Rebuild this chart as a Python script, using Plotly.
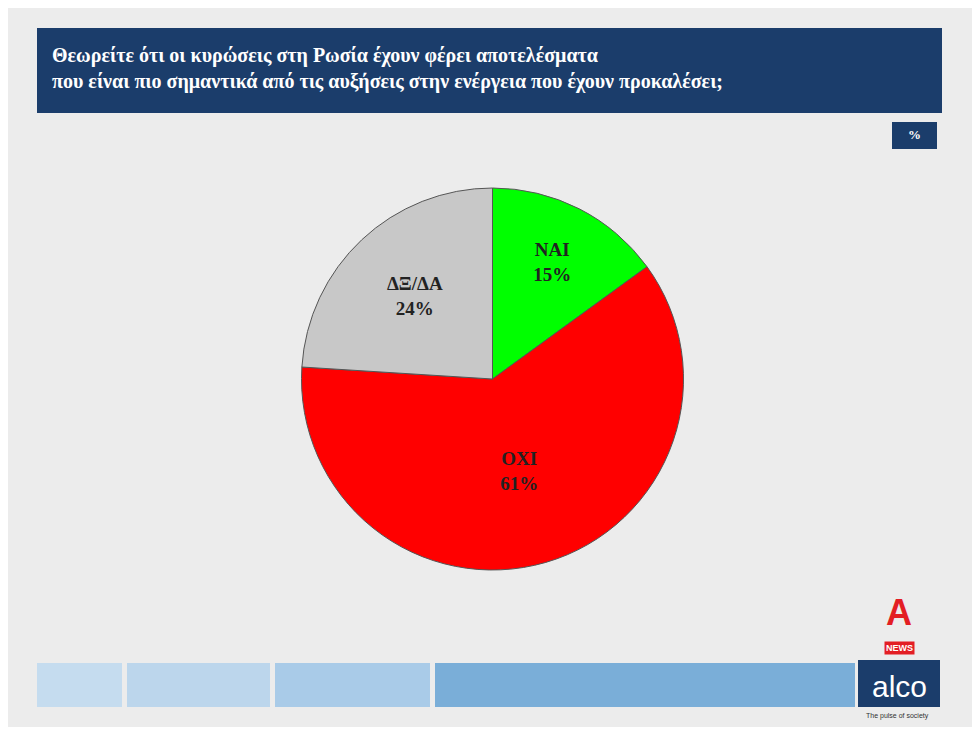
import plotly.graph_objects as go

labels = ["ΝΑΙ", "ΟΧΙ", "ΔΞ/ΔΑ"]
values = [15, 61, 24]
colors = ["#00ff00", "#ff0000", "#c8c8c8"]
title_lines = ["Θεωρείτε ότι οι κυρώσεις στη Ρωσία έχουν φέρει αποτελέσματα",
               "που είναι πιο σημαντικά από τις αυξήσεις στην ενέργεια που έχουν προκαλέσει;"]

W, H = 964, 719
OFF = 8
def px(x): return (x - OFF) / W
def py(y): return 1 - (y - OFF) / H

fig = go.Figure(go.Pie(
    labels=labels, values=values, sort=False, direction="clockwise", rotation=0,
    marker=dict(colors=colors, line=dict(color="#555555", width=1)),
    texttemplate="<b>%{label}<br>%{value}%</b>", textposition="inside", insidetextorientation="horizontal",
    textfont=dict(family="Liberation Serif", size=19, color="#222222"),
    domain=dict(x=[px(300), px(685)], y=[py(570), py(188)]), showlegend=False, hoverinfo="skip"))

shapes = [
    dict(type="rect", xref="paper", yref="paper", x0=px(37), x1=px(942), y0=py(113), y1=py(28),
         fillcolor="#1b3d6b", line=dict(width=0), layer="below"),
    dict(type="rect", xref="paper", yref="paper", x0=px(892), x1=px(937), y0=py(149), y1=py(122),
         fillcolor="#1b3d6b", line=dict(width=0), layer="below"),
    dict(type="rect", xref="paper", yref="paper", x0=px(858), x1=px(940), y0=py(707), y1=py(660),
         fillcolor="#1b3d6b", line=dict(width=0), layer="below"),
]
for (a, b, c) in [(37, 122, "#c5dcef"), (127, 270, "#bcd6ec"), (275, 430, "#a9cbe8"), (435, 855, "#7aaed8")]:
    shapes.append(dict(type="rect", xref="paper", yref="paper", x0=px(a), x1=px(b), y0=py(707), y1=py(663),
                       fillcolor=c, line=dict(width=0), layer="below"))

def A(x, y, text, **kw):
    d = dict(x=px(x), y=py(y), xref="paper", yref="paper", showarrow=False, text=text,
             xanchor="center", yanchor="middle")
    d.update(kw)
    return d

ann = [
    A(50, 68, "<b>" + "<br>".join(title_lines) + "</b>", xanchor="left", align="left",
      font=dict(family="Liberation Serif", size=20, color="white")),
    A(914, 135, "<b>%</b>", font=dict(family="Liberation Serif", size=13, color="white")),
    A(899, 686, "alco", font=dict(family="Liberation Sans", size=30, color="white")),
    A(899, 612, "<b>A</b>", font=dict(family="Liberation Sans", size=36, color="#e31e24")),
    A(899, 648, "<b>NEWS</b>", font=dict(family="Liberation Sans", size=9, color="white"), bgcolor="#e31e24"),
    A(897, 716, "The pulse of society", font=dict(family="Liberation Sans", size=7, color="#333333")),
]

fig.update_layout(width=W, height=H, margin=dict(l=0, r=0, t=0, b=0),
                  paper_bgcolor="#ececec", plot_bgcolor="#ececec", shapes=shapes, annotations=ann)
fig.write_html("out.html")
